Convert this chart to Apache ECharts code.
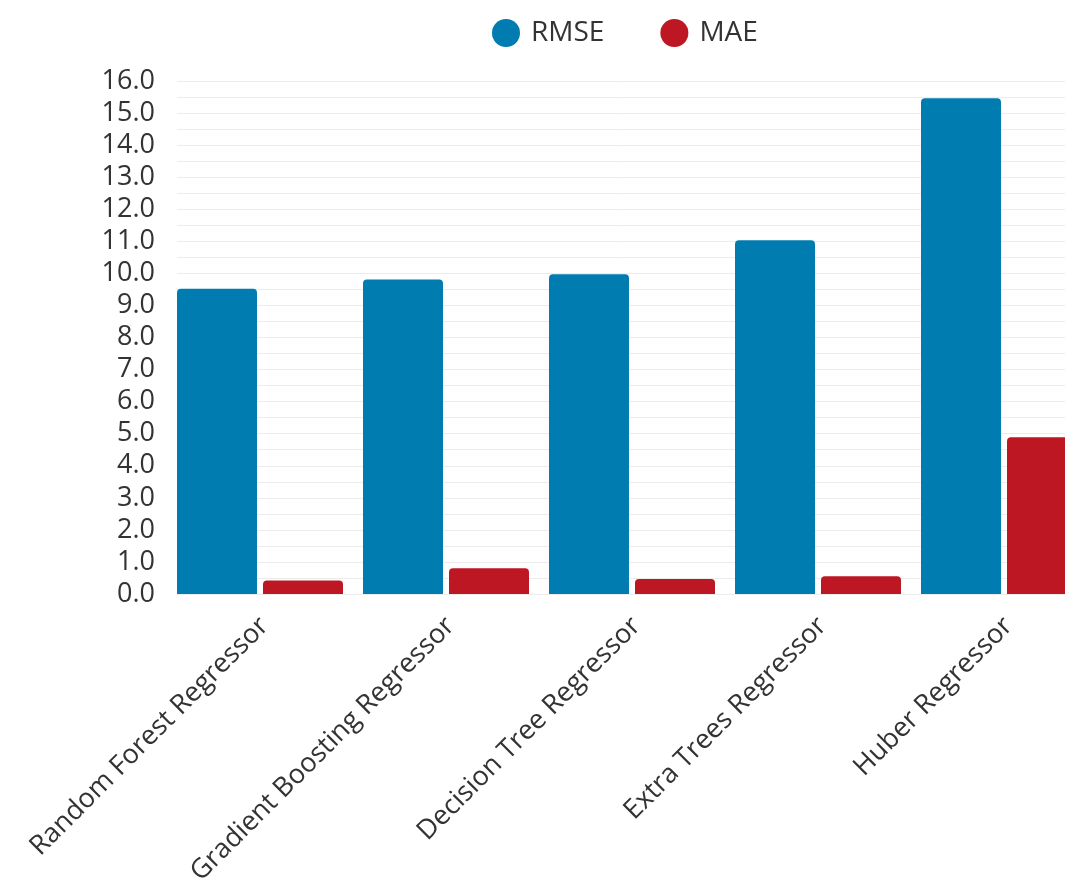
<!DOCTYPE html>
<html>
<head>
<meta charset="utf-8">
<script src="https://cdn.jsdelivr.net/npm/echarts@6/dist/echarts.min.js"></script>
<style>
  html, body { margin: 0; padding: 0; background: #fff; }
  #chart { width: 1065px; height: 890px; }
</style>
</head>
<body>
<div id="chart"></div>
<script>
// Regression model error comparison
const models = ['Random Forest Regressor', 'Gradient Boosting Regressor', 'Decision Tree Regressor', 'Extra Trees Regressor', 'Huber Regressor'];
const rmse = [9.52, 9.81, 9.97, 11.03, 15.46];
const mae = [0.42, 0.80, 0.47, 0.55, 4.89];
const seriesNames = ['RMSE', 'MAE'];
const yMin = 0, yMax = 16, yStep = 1;

const FONT = 'Open Sans';
const chart = echarts.init(document.getElementById('chart'), null, { renderer: 'canvas' });

const gridTop = 81, gridHeight = 513, plotWidth = 930;

chart.setOption({
  animation: false,
  textStyle: { fontFamily: FONT },
  legend: {
    data: seriesNames,
    left: 487,
    top: 14,
    icon: 'circle',
    itemWidth: 28,
    itemHeight: 28,
    itemGap: 56,
    textStyle: { fontFamily: FONT, fontSize: 28, color: '#333', padding: [0, 0, 0, 6] }
  },
  grid: [
    // axis frame: labels and grid lines (plot runs past the right edge)
    { left: 177, width: plotWidth, top: gridTop, height: gridHeight, outerBoundsMode: 'none', containLabel: false },
    // bars sit slightly left of each category slot
    { left: 167, width: plotWidth, top: gridTop, height: gridHeight, outerBoundsMode: 'none', containLabel: false }
  ],
  xAxis: [
    {
      type: 'category', gridIndex: 0, data: models,
      axisLine: { show: false }, axisTick: { show: false },
      axisLabel: { rotate: 45, interval: 0, margin: 22, padding: [0, 8, 0, 0], fontFamily: FONT, fontSize: 27, color: '#333' }
    },
    {
      type: 'category', gridIndex: 1, data: models, show: false
    }
  ],
  yAxis: [
    {
      type: 'value', gridIndex: 0, min: yMin, max: yMax, interval: yStep,
      axisLine: { show: false }, axisTick: { show: false },
      axisLabel: { margin: 22, fontFamily: FONT, fontSize: 27, color: '#333', formatter: v => v.toFixed(1) },
      splitLine: { show: true, lineStyle: { color: '#ececec', width: 1 } },
      minorTick: { show: false, splitNumber: 2 },
      minorSplitLine: { show: true, lineStyle: { color: '#ececec', width: 1 } }
    },
    {
      type: 'value', gridIndex: 1, min: yMin, max: yMax, interval: yStep, show: false,
      splitLine: { show: false }
    }
  ],
  series: [
    {
      name: seriesNames[0], type: 'bar', xAxisIndex: 1, yAxisIndex: 1, data: rmse,
      barWidth: 80, barGap: '7.5%',
      itemStyle: { color: '#017cb0', borderRadius: [4, 4, 0, 0] }
    },
    {
      name: seriesNames[1], type: 'bar', xAxisIndex: 1, yAxisIndex: 1, data: mae,
      barWidth: 80, barGap: '7.5%',
      itemStyle: { color: '#be1724', borderRadius: [4, 4, 0, 0] }
    }
  ]
});
</script>
</body>
</html>
